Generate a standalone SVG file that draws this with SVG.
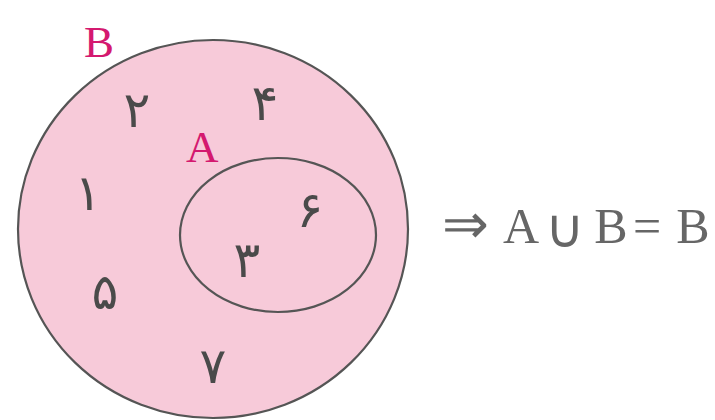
<svg xmlns="http://www.w3.org/2000/svg" width="715" height="420" viewBox="0 0 715 420">
<style>
.set{fill:#f7cad9;stroke:#555;stroke-width:2.2}
.inner{fill:none;stroke:#555;stroke-width:2.2}
.lbl{font-family:"Liberation Serif",serif;fill:#d4196f}
.dig{font-family:"DejaVu Sans",sans-serif;font-size:50px;fill:#4a4a4a;text-anchor:middle}
.eq{font-family:"Liberation Serif",serif;fill:#666;text-anchor:middle}
</style>
<rect width="715" height="420" fill="#fff"/>
<g id="setB">
<ellipse class="set" cx="213" cy="229" rx="195" ry="189"/>
<text class="lbl" x="84" y="57" font-size="45">B</text>
</g>
<g id="setA">
<ellipse class="inner" cx="278" cy="235" rx="98" ry="77"/>
<text class="lbl" x="186" y="162" font-size="45">A</text>
</g>
<g id="elements">
<text class="dig" x="137" y="127">۲</text>
<text class="dig" x="265" y="120">۴</text>
<text class="dig" x="88" y="210">۱</text>
<text class="dig" x="310" y="227">۶</text>
<text class="dig" x="247" y="277">۳</text>
<text class="dig" x="105" y="309">۵</text>
<text class="dig" x="213" y="383">۷</text>
</g>
<g id="formula">
<text class="eq" x="465" y="243" font-size="56">⇒</text>
<text class="eq" x="521" y="243" font-size="50">A</text>
<text class="eq" x="565" y="247" font-size="54">∪</text>
<text class="eq" x="611" y="243" font-size="50">B</text>
<text class="eq" x="647" y="243" font-size="50">=</text>
<text class="eq" x="693" y="243" font-size="50">B</text>
</g>
</svg>
